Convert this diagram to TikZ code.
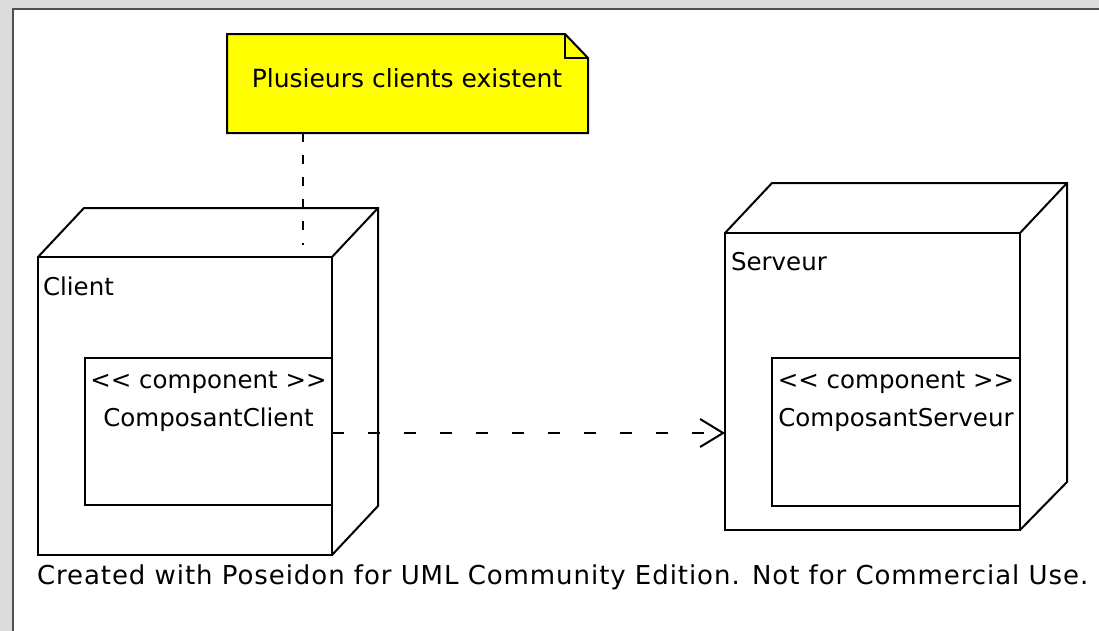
\documentclass[tikz,border=0pt]{standalone}
\usepackage{fontspec}
\setmainfont{DejaVu Sans}[Ligatures=TeXOff]
\newfontfamily\footfont{DejaVu Sans}[Ligatures=TeXOff, LetterSpace=3.6]
\usetikzlibrary{arrows.meta}
\definecolor{bggray}{HTML}{DCDCDC}
\definecolor{framegray}{HTML}{505050}
\definecolor{noteyellow}{HTML}{FFFF00}
\begin{document}
\begin{tikzpicture}[x=1pt,y=-1pt,
  every node/.style={inner sep=0pt, outer sep=0pt},
  edge/.style={line width=2pt, black, line join=miter},
  face/.style={edge, draw, fill=white, anchor=north west},
  lbl/.style={font=\fontsize{24.5}{28}\selectfont, text=black},
  notelbl/.style={font=\fontsize{25}{29}\selectfont, text=black},
  footlbl/.style={font=\footfont\fontsize{26}{30}\selectfont, text=black},
  dep/.style={line width=2pt, dash pattern=on 12pt off 24pt},
  anchorline/.style={line width=2pt, dash pattern=on 9pt off 13pt}
]
\useasboundingbox (0,0) rectangle (1099,630);
\fill[bggray] (-5,-5) rectangle (1105,640);
\fill[white] (13,9) rectangle (1110,640);
\draw[framegray, line width=2pt] (13,640) -- (13,9) -- (1110,9);

% Note
\path[fill=noteyellow, draw=black, line width=2pt, line join=miter]
  (227,34) -- (565,34) -- (588,58) -- (588,133) -- (227,133) -- cycle;
\draw[edge] (565,34) -- (565,58) -- (588,58);
\node[minimum width=361, minimum height=99, anchor=north west] (note) at (227,34) {};
\node[notelbl] (notetext) at (407,78) {Plusieurs clients existent};

% Client node (3D box)
\draw[edge] (38,257) -- (84,208) -- (378,208) -- (378,506) -- (332,555);
\draw[edge] (332,257) -- (378,208);
\node[face, minimum width=294, minimum height=298] (client) at (38,257) {};
\node[lbl, anchor=west] (clientlbl) at (43,286) {Client};
\node[face, minimum width=247, minimum height=147] (cc) at (85,358) {};
\node[lbl] (ccst) at (208.5,382) {<< component >>};
\node[lbl] (ccname) at (208.5,420) {ComposantClient};

% Server node (3D box)
\draw[edge] (725,233) -- (772,183) -- (1067,183) -- (1067,482) -- (1020,530);
\draw[edge] (1020,233) -- (1067,183);
\node[face, minimum width=295, minimum height=297] (srv) at (725,233) {};
\node[lbl, anchor=west] (srvlbl) at (731,262) {Serveur};
\node[face, minimum width=248, minimum height=148] (sc) at (772,358) {};
\node[lbl] (scst) at (896,382) {<< component >>};
\node[lbl] (scname) at (896,420) {ComposantServeur};

% Note anchor (dashed)
\coordinate (noteend) at (303,245);
\draw[anchorline] (note.south -| noteend) -- (noteend);

% Dependency
\draw[dep, -{Straight Barb[length=23pt, width=28pt, line width=2pt]}]
  ([yshift=-1.5pt]cc.east) -- ([yshift=-1.5pt]cc.east -| srv.west);

% Footer
\node[footlbl, anchor=west] (footer) at (37,577) {Created with Poseidon for UML Community Edition. Not for Commercial Use.};
\end{tikzpicture}
\end{document}
